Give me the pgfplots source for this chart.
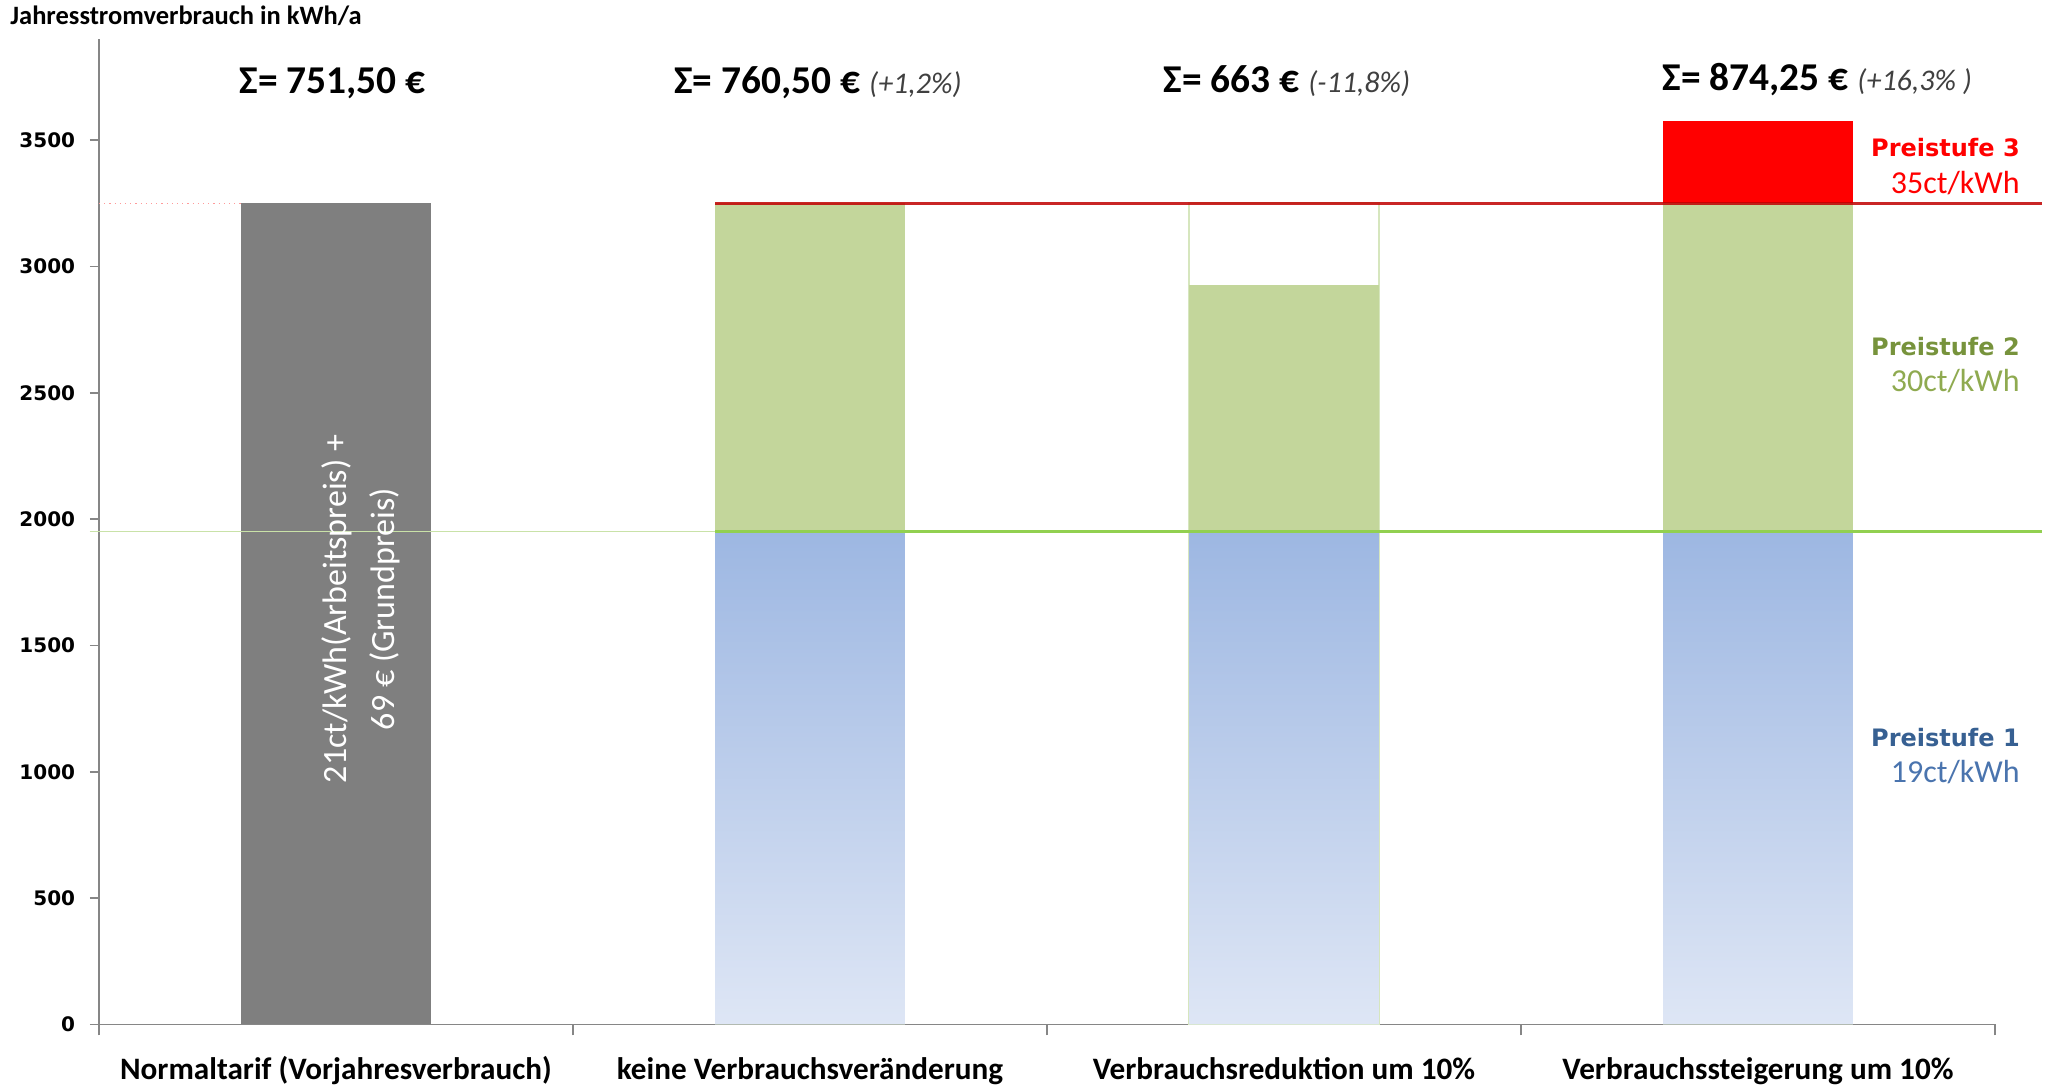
\documentclass[border=0pt]{standalone}
\usepackage{fontspec}
\setmainfont{Carlito}
\newfontfamily\dejavu{DejaVu Sans}
\usepackage{pgfplots}
\pgfplotsset{compat=1.18}
\definecolor{axisgray}{HTML}{868686}
\definecolor{bargray}{HTML}{7F7F7F}
\definecolor{bargreen}{HTML}{C3D69B}
\definecolor{bluetop}{HTML}{9DB7E2}
\definecolor{bluebot}{HTML}{DEE6F5}
\definecolor{barred}{HTML}{FF0000}
\definecolor{redline}{HTML}{C00000}
\definecolor{greenline}{HTML}{92D050}
\definecolor{thingreen}{HTML}{C9E2A8}
\definecolor{boxgreen}{HTML}{D6E6BE}
\definecolor{pinkline}{HTML}{FF9A9A}
\definecolor{pctgray}{HTML}{404040}
\definecolor{ps2}{HTML}{77933C}
\definecolor{ps2b}{HTML}{8FAA50}
\definecolor{ps1}{HTML}{376092}
\definecolor{ps1b}{HTML}{4A74AE}
\begin{document}
\begin{tikzpicture}
\begin{axis}[name=ax, scale only axis, width=948pt, height=492.75pt,
  xmin=0, xmax=4, ymin=0, ymax=3900, clip=false,
  axis lines*=left,
  axis line style={color=axisgray, line width=0.75pt},
  tick style={color=axisgray, line width=0.75pt},
  tick align=outside,
  xtick={0.5,1.5,2.5,3.5},
  xticklabels={Normaltarif (Vorjahresverbrauch), keine Verbrauchsveränderung, Verbrauchsreduktion um 10\%, Verbrauchssteigerung um 10\%},
  minor xtick={0,1,2,3,4},
  major x tick style={draw=none},
  minor tick length=5.5pt, major tick length=4.5pt,
  ytick={0,500,...,3500},
  yticklabel style={font=\dejavu\bfseries\fontsize{10}{12}\selectfont, xshift=-3.9pt, /pgf/number format/assume math mode=true, /pgf/number format/1000 sep={}},
  xticklabel style={font=\bfseries\fontsize{15.6}{18}\selectfont, anchor=base, yshift=-22.9pt},
]
% thin reference lines behind
\addplot[draw=pinkline, line width=0.6pt, dotted] coordinates {(0,3250) (0.5,3250)};
% bars (painted from top down)
\addplot[ybar, bar width=0.4, bar shift=0pt, fill=barred, draw=none] coordinates {(3.5,3575)};
\addplot[ybar, bar width=0.4, bar shift=0pt, fill=bargreen, draw=none] coordinates {(1.5,3250) (3.5,3250)};
\addplot[ybar, bar width=0.4, bar shift=0pt, fill=white, draw=boxgreen, line width=0.8pt] coordinates {(2.5,3250)};
\addplot[ybar, bar width=0.4, bar shift=0pt, fill=bargreen, draw=none] coordinates {(2.5,2925)};
\addplot[ybar, bar width=0.4, bar shift=0pt, draw=none, top color=bluetop, bottom color=bluebot] coordinates {(1.5,1950) (2.5,1950) (3.5,1950)};
\addplot[ybar, bar width=0.4, bar shift=0pt, fill=bargray, draw=none] coordinates {(0.5,3250)};
% threshold lines
\addplot[draw=thingreen, line width=0.6pt] coordinates {(-0.02,1950) (1.3,1950)};
\addplot[draw=greenline, line width=1.35pt] coordinates {(1.3,1950) (4.1,1950)};
\addplot[draw=redline, line width=1.35pt, opacity=0.85] coordinates {(1.3,3250) (4.1,3250)};
% text in gray bar
\node[rotate=90, align=center, text=white, font=\fontsize{17}{24}\selectfont] at (axis cs:0.552,1644) {21ct/kWh(Arbeitspreis) +\\69 € (Grundpreis)};
% sums
\node[anchor=base west, inner sep=0pt] at (axis cs:0.296,3685) {\fontsize{19.7}{22}\selectfont\bfseries Σ= 751,50 €};
\node[anchor=base west, inner sep=0pt] at (axis cs:1.213,3685) {\fontsize{19.7}{22}\selectfont\bfseries Σ= 760,50 € {\mdseries\itshape\fontsize{15}{18}\selectfont\color{pctgray}(+1,2\%)}};
\node[anchor=base west, inner sep=0pt] at (axis cs:2.245,3690) {\fontsize{19.7}{22}\selectfont\bfseries Σ= 663 € {\mdseries\itshape\fontsize{15}{18}\selectfont\color{pctgray}(-11,8\%)}};
\node[anchor=base west, inner sep=0pt] at (axis cs:3.298,3695) {\fontsize{19.7}{22}\selectfont\bfseries Σ= 874,25 € {\mdseries\itshape\fontsize{15}{18}\selectfont\color{pctgray}(+16,3\% )}};
% price level labels
\node[anchor=base east, inner sep=0pt, text=barred, font=\dejavu\bfseries\fontsize{12}{14}\selectfont] at (axis cs:4.053,3433) {Preistufe 3};
\node[anchor=base east, inner sep=0pt, text=barred, font=\fontsize{16}{18}\selectfont] at (axis cs:4.053,3289) {35ct/kWh};
\node[anchor=base east, inner sep=0pt, text=ps2, font=\dejavu\bfseries\fontsize{12}{14}\selectfont] at (axis cs:4.053,2647) {Preistufe 2};
\node[anchor=base east, inner sep=0pt, text=ps2b, font=\fontsize{16}{18}\selectfont] at (axis cs:4.053,2503) {30ct/kWh};
\node[anchor=base east, inner sep=0pt, text=ps1, font=\dejavu\bfseries\fontsize{12}{14}\selectfont] at (axis cs:4.053,1101) {Preistufe 1};
\node[anchor=base east, inner sep=0pt, text=ps1b, font=\fontsize{16}{18}\selectfont] at (axis cs:4.053,957) {19ct/kWh};
\end{axis}
\node[anchor=base west, inner sep=0pt, font=\bfseries\fontsize{13.25}{16}\selectfont] at ([shift={(-44.5pt,500pt)}]ax.south west) {Jahresstromverbrauch in kWh/a};
\pgfresetboundingbox
\path (ax.south west) ++(-49.5pt,-30.25pt) rectangle ++(1024.5pt,542.5pt);
\end{tikzpicture}
\end{document}
